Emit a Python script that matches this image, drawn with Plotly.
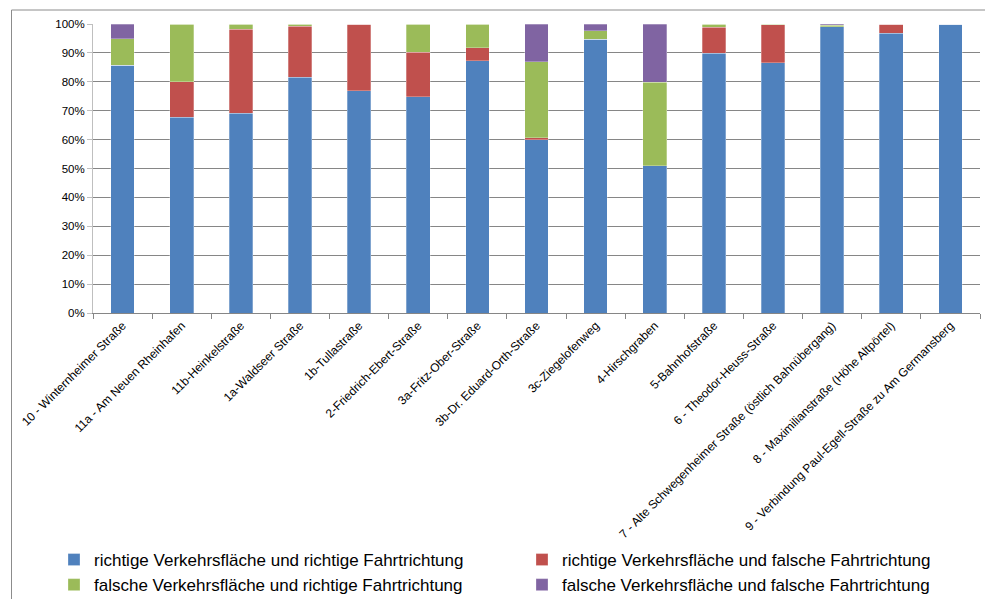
import plotly.graph_objects as go

categories = [
    "10 - Winternheimer Straße",
    "11a - Am Neuen Rheinhafen",
    "11b-Heinkelstraße",
    "1a-Waldseer Straße",
    "1b-Tullastraße",
    "2-Friedrich-Ebert-Straße",
    "3a-Fritz-Ober-Straße",
    "3b-Dr. Eduard-Orth-Straße",
    "3c-Ziegelofenweg",
    "4-Hirschgraben",
    "5-Bahnhofstraße",
    "6 - Theodor-Heuss-Straße",
    "7 - Alte Schwegenheimer Straße (östlich Bahnübergang)",
    "8 - Maximilianstraße (Höhe Altpörtel)",
    "9 - Verbindung Paul-Egell-Straße zu Am Germansberg",
]

# shares in percent per street section
richtig_richtig = [85.8, 67.7, 69.1, 81.6, 76.9, 74.9, 87.2, 59.9, 94.7, 50.9, 89.8, 86.6, 99.1, 96.8, 100.0]
richtig_falsch = [0.0, 12.4, 29.1, 17.6, 23.1, 15.4, 4.6, 0.8, 0.0, 0.0, 9.0, 13.2, 0.0, 3.2, 0.0]
falsch_richtig = [9.1, 19.9, 1.8, 0.8, 0.0, 9.7, 8.2, 26.2, 3.0, 28.9, 1.2, 0.2, 0.4, 0.0, 0.0]
falsch_falsch = [5.1, 0.0, 0.0, 0.0, 0.0, 0.0, 0.0, 13.1, 2.3, 20.2, 0.0, 0.0, 0.5, 0.0, 0.0]

y_ticks = [0, 10, 20, 30, 40, 50, 60, 70, 80, 90, 100]

series = [
    ("richtige Verkehrsfläche und richtige Fahrtrichtung", richtig_richtig, "#4F81BD"),
    ("richtige Verkehrsfläche und falsche Fahrtrichtung", richtig_falsch, "#C0504D"),
    ("falsche Verkehrsfläche und richtige Fahrtrichtung", falsch_richtig, "#9BBB59"),
    ("falsche Verkehrsfläche und falsche Fahrtrichtung", falsch_falsch, "#8064A2"),
]

FONT = "Liberation Sans, Arial, sans-serif"
W, H = 985, 599
ML, MR, MT, MB = 93, 5, 24, 286
PW = W - ML - MR
PH = H - MT - MB


def px_x(x):
    return (x - ML) / PW


def px_y(y):
    return (H - MB - y) / PH


fig = go.Figure()
for name, vals, color in series:
    fig.add_trace(go.Bar(
        x=categories,
        y=vals,
        name=name,
        marker=dict(color=color, line=dict(color="rgba(255,255,255,0.35)", width=0.8)),
        hoverinfo="skip",
    ))

# outer chart frame (left and top edges)
frame = dict(color="#8c8c8c", width=1)
fig.add_shape(type="line", xref="paper", yref="paper",
              x0=px_x(11.5), x1=px_x(11.5), y0=px_y(10), y1=px_y(H + 5), line=frame)
fig.add_shape(type="line", xref="paper", yref="paper",
              x0=px_x(11.5), x1=px_x(W + 5), y0=px_y(10), y1=px_y(10), line=frame)

fig.update_layout(
    width=W, height=H,
    margin=dict(l=ML, r=MR, t=MT, b=MB, autoexpand=False),
    barmode="stack",
    bargap=0.6,
    paper_bgcolor="white",
    plot_bgcolor="white",
    font=dict(family=FONT, size=12, color="#000000"),
    showlegend=True,
    legend=dict(
        orientation="h",
        x=px_x(54), xanchor="left",
        y=px_y(603), yanchor="bottom",
        entrywidth=423, entrywidthmode="pixels",
        font=dict(family=FONT, size=17, color="#000000"),
        traceorder="normal",
        itemclick=False, itemdoubleclick=False,
    ),
)

fig.update_xaxes(
    type="category",
    tickangle=-45,
    tickfont=dict(family=FONT, size=12),
    showline=True, linecolor="#868686", linewidth=1,
    ticks="outside", ticklen=5, tickcolor="#868686",
    tickson="boundaries",
    showgrid=False,
    range=[-0.5, len(categories) - 0.5],
)
fig.update_yaxes(
    range=[0, 100],
    tickmode="array",
    tickvals=y_ticks,
    ticktext=[f"{v}%" for v in y_ticks],
    tickfont=dict(family=FONT, size=11.5),
    showgrid=True, gridcolor="#868686", gridwidth=1,
    showline=True, linecolor="#BFBFBF", linewidth=1,
    ticks="outside", ticklen=5, tickcolor="#BFBFBF",
    zeroline=False,
)

fig.write_html("out.html")
